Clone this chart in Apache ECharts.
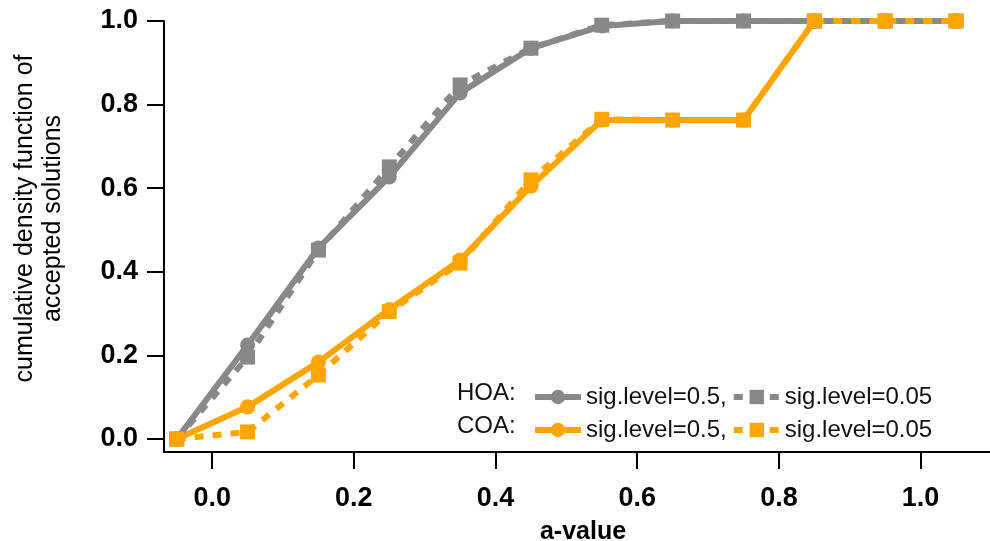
<!DOCTYPE html>
<html>
<head>
<meta charset="utf-8">
<script src="https://cdn.jsdelivr.net/npm/echarts@6/dist/echarts.min.js"></script>
<style>
html,body{margin:0;padding:0;background:#fff;}
#chart{width:990px;height:541px;}
</style>
</head>
<body>
<div id="chart"></div>
<script>
// a-value bins
var aValues = [-0.05, 0.05, 0.15, 0.25, 0.35, 0.45, 0.55, 0.65, 0.75, 0.85, 0.95, 1.05];
var hoa05  = [0, 0.225, 0.457, 0.627, 0.828, 0.935, 0.988, 1, 1, 1, 1, 1];
var hoa005 = [0, 0.196, 0.452, 0.651, 0.847, 0.935, 0.99, 1, 1, 1, 1, 1];
var coa05  = [0, 0.077, 0.184, 0.31, 0.428, 0.605, 0.763, 0.763, 0.763, 1, 1, 1];
var coa005 = [0, 0.017, 0.153, 0.305, 0.421, 0.62, 0.765, 0.763, 0.763, 1, 1, 1];
var tickValues = [0, 0.2, 0.4, 0.6, 0.8, 1.0];

var gray = '#888888';
var orange = '#ffa500';
var font = 'Liberation Sans, Arial, sans-serif';

function pairs(ys){
	var out = [];
	for(var i=0;i<aValues.length;i++){
		out.push([aValues[i], ys[i]]);
	}
	return out;
}

var names = {
	'HOA sig.level=0.5': 'sig.level=0.5,',
	'HOA sig.level=0.05': 'sig.level=0.05',
	'COA sig.level=0.5': 'sig.level=0.5,',
	'COA sig.level=0.05': 'sig.level=0.05'
};

function legendOpt(top, items){
	return {
		left: 527,
		top: top,
		orient: 'horizontal',
		itemWidth: 46,
		itemHeight: 18,
		itemGap: 4,
		selectedMode: false,
		data: items,
		formatter: function(n){ return names[n]; },
		lineStyle: {width: 6},
		textStyle: {fontFamily: font, fontSize: 24, color: '#111'}
	};
}

var chart = echarts.init(document.getElementById('chart'));
var option = {
	animation: false,
	backgroundColor: '#fff',
	grid: {left: 164, top: 21, right: 0, bottom: 89, outerBoundsMode: 'none', containLabel: false},
	legend: [
		legendOpt(380, ['HOA sig.level=0.5', 'HOA sig.level=0.05']),
		legendOpt(413, ['COA sig.level=0.5', 'COA sig.level=0.05'])
	],
	graphic: [
		{type: 'text', left: 457, top: 381, style: {text: 'HOA:', font: '24px ' + font, fill: '#111'}},
		{type: 'text', left: 457, top: 414, style: {text: 'COA:', font: '24px ' + font, fill: '#111'}}
	],
	xAxis: {
		type: 'value',
		min: -0.068,
		max: 1.098,
		name: 'a-value',
		nameLocation: 'middle',
		nameGap: 68,
		nameTextStyle: {fontFamily: font, fontSize: 25, fontWeight: 'bold', color: '#000', padding: [0, 0, 0, 12]},
		axisLine: {show: true, onZero: false, lineStyle: {color: '#000', width: 2}},
		axisTick: {show: true, length: 17, customValues: tickValues, lineStyle: {color: '#000', width: 2}},
		axisLabel: {customValues: tickValues, margin: 33, fontFamily: font, fontSize: 27, fontWeight: 'bold', color: '#000',
			formatter: function(v){ return v.toFixed(1); }},
		splitLine: {show: false}
	},
	yAxis: {
		type: 'value',
		min: -0.031,
		max: 1.0,
		name: 'cumulative density function of\naccepted solutions',
		nameLocation: 'middle',
		nameRotate: 90,
		nameGap: 97,
		nameTextStyle: {fontFamily: font, fontSize: 25, lineHeight: 28, color: '#000', padding: [0, 0, 0, 36]},
		axisLine: {show: true, onZero: false, lineStyle: {color: '#000', width: 2}},
		axisTick: {show: true, length: 17, customValues: tickValues, lineStyle: {color: '#000', width: 2}},
		axisLabel: {customValues: tickValues, margin: 26, fontFamily: font, fontSize: 27, fontWeight: 'bold', color: '#000',
			formatter: function(v){ return v.toFixed(1); }},
		splitLine: {show: false}
	},
	series: [{
		name: 'COA sig.level=0.5',
		type: 'line',
		data: pairs(coa05),
		symbol: 'circle',
		symbolSize: 15,
		color: orange,
		lineStyle: {width: 6, color: orange},
		itemStyle: {color: orange},
		z: 2
	}, {
		name: 'HOA sig.level=0.5',
		type: 'line',
		data: pairs(hoa05),
		symbol: 'circle',
		symbolSize: 15,
		color: gray,
		lineStyle: {width: 6, color: gray},
		itemStyle: {color: gray},
		z: 3
	}, {
		name: 'HOA sig.level=0.05',
		type: 'line',
		data: pairs(hoa005),
		symbol: 'rect',
		symbolSize: 15,
		color: gray,
		lineStyle: {width: 6, color: gray, type: [9, 9]},
		itemStyle: {color: gray},
		z: 4
	}, {
		name: 'COA sig.level=0.05',
		type: 'line',
		data: pairs(coa005),
		symbol: 'rect',
		symbolSize: 15,
		color: orange,
		lineStyle: {width: 6, color: orange, type: [9, 9]},
		itemStyle: {color: orange},
		z: 5
	}]
};
chart.setOption(option);
</script>
</body>
</html>
